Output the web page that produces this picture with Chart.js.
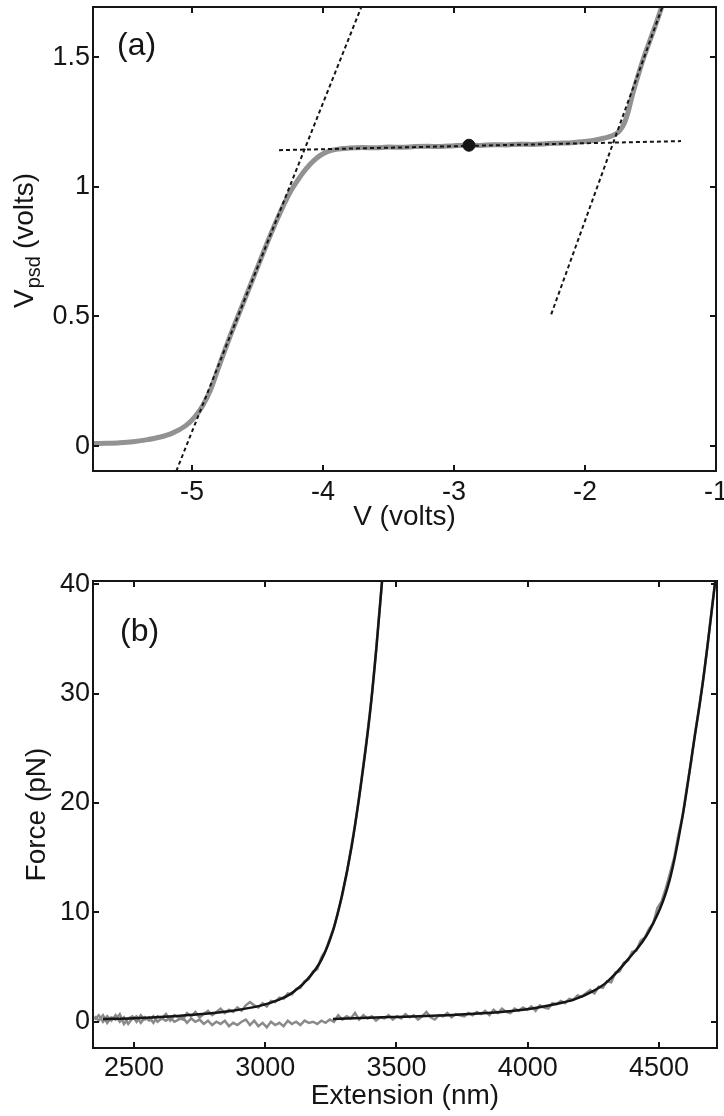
<!DOCTYPE html>
<html><head><meta charset="utf-8">
<script src="https://cdn.jsdelivr.net/npm/chart.js@4.4.0/dist/chart.umd.min.js"></script>
<style>
html,body{margin:0;padding:0;background:#fff;overflow:hidden;}
#wrapA{position:absolute;left:0;top:0;width:724px;height:540px;}
#wrapB{position:absolute;left:0;top:540px;width:724px;height:576px;}
canvas{display:block;}
</style></head><body>
<div id="wrapA"><canvas id="cA" width="724" height="540"></canvas></div>
<div id="wrapB"><canvas id="cB" width="724" height="576"></canvas></div>
<script>
// ---------- Panel (a) data ----------
const xTicksA = [-5, -4, -3, -2, -1];
const yTicksA = [0, 0.5, 1, 1.5];
const psdX = [-5.75,-5.65,-5.55,-5.45,-5.35,-5.25,-5.15,-5.05,-4.98,-4.92,-4.86,-4.80,-4.70,-4.60,-4.50,-4.40,-4.30,-4.25,-4.20,-4.15,-4.10,-4.05,-4.00,-3.95,-3.90,-3.80,-3.70,-3.60,-3.50,-3.40,-3.30,-3.20,-3.10,-3.00,-2.90,-2.80,-2.70,-2.60,-2.50,-2.40,-2.30,-2.20,-2.10,-2.00,-1.95,-1.90,-1.85,-1.80,-1.76,-1.73,-1.70,-1.67,-1.64,-1.60,-1.55,-1.50,-1.45,-1.41];
const psdY = [0.010,0.011,0.013,0.017,0.024,0.034,0.050,0.078,0.112,0.155,0.215,0.300,0.436,0.563,0.690,0.816,0.930,0.980,1.020,1.056,1.086,1.110,1.127,1.138,1.144,1.149,1.151,1.150,1.153,1.152,1.155,1.156,1.155,1.158,1.160,1.159,1.162,1.161,1.164,1.163,1.166,1.168,1.170,1.174,1.177,1.182,1.188,1.195,1.205,1.220,1.245,1.290,1.350,1.420,1.500,1.570,1.640,1.700];
const fitLeftX = [-5.12, -3.71];
const fitLeftY = [-0.096, 1.69];
const fitFlatX = [-4.336, -1.267];
const fitFlatY = [1.141, 1.176];
const fitRightX = [-2.258, -1.412];
const fitRightY = [0.508, 1.69];
const markX = [-2.886];
const markY = [1.160];

// ---------- Panel (b) data ----------
const xTicksB = [2500, 3000, 3500, 4000, 4500];
const yTicksB = [0, 10, 20, 30, 40];
const traceAX = [2350,2366,2382,2398,2414,2430,2446,2462,2478,2494,2510,2526,2542,2558,2574,2590,2606,2622,2638,2654,2670,2686,2702,2718,2734,2750,2766,2782,2798,2814,2830,2846,2862,2878,2894,2910,2926,2942,2958,2974,2990,3006,3022,3038,3054,3070,3086,3102,3118,3134,3150,3166,3182,3198,3214,3230,3246,3262,3278,3294,3310,3326,3342,3358,3374,3390,3406,3422,3438,3446];
const traceAY = [0.5,0.1,0.6,-0.1,0.4,0.2,0.7,-0.2,0.3,0.5,0.0,0.6,0.2,0.4,-0.1,0.5,0.3,0.7,0.1,0.6,0.4,0.2,0.8,0.5,0.9,0.4,0.7,1.0,0.6,0.9,1.2,0.8,1.1,0.9,1.3,1.0,1.5,1.8,1.5,1.3,1.7,1.4,1.9,1.8,2.2,2.1,2.6,2.5,3.0,3.1,3.7,3.9,4.6,4.8,5.9,6.5,7.6,8.6,10.1,11.6,13.5,15.7,18.0,20.6,23.5,26.5,29.8,33.9,38.3,40.5];
const traceBX = [2350,2366,2382,2398,2414,2430,2446,2462,2478,2494,2510,2526,2542,2558,2574,2590,2606,2622,2638,2654,2670,2686,2702,2718,2734,2750,2766,2782,2798,2814,2830,2846,2862,2878,2894,2910,2926,2942,2958,2974,2990,3006,3022,3038,3054,3070,3086,3102,3118,3134,3150,3166,3182,3198,3214,3230,3246,3262,3278,3294,3310,3326,3342,3358,3374,3390,3406,3422,3438,3454,3470,3486,3502,3518,3534,3550,3566,3582,3598,3614,3630,3646,3662,3678,3694,3710,3726,3742,3758,3774,3790,3806,3822,3838,3854,3870,3886,3902,3918,3934,3950,3966,3982,3998,4014,4030,4046,4062,4078,4094,4110,4126,4142,4158,4174,4190,4206,4222,4238,4254,4270,4286,4302,4318,4334,4350,4366,4382,4398,4414,4430,4446,4462,4478,4494,4510,4526,4542,4558,4574,4590,4606,4622,4638,4654,4670,4686,4702,4718];
const traceBY = [0.2,0.6,0.0,0.5,0.1,0.6,0.0,0.4,-0.2,0.3,0.5,-0.1,0.4,0.1,0.5,0.0,0.3,0.1,0.4,0.0,0.2,0.4,-0.1,0.3,0.0,0.2,-0.2,0.1,-0.3,0.0,-0.2,0.1,-0.4,-0.1,-0.3,0.0,0.2,-0.3,0.1,-0.4,-0.1,-0.5,0.0,-0.3,-0.1,-0.4,0.1,-0.2,0.0,-0.3,0.1,-0.1,0.0,-0.2,0.1,-0.1,0.2,0.0,0.6,0.2,0.5,0.3,0.8,0.2,0.6,0.3,0.5,0.1,0.4,0.3,0.6,0.2,0.5,0.3,0.7,0.4,0.6,0.2,0.5,0.9,0.4,0.2,0.6,0.5,0.8,0.4,0.7,0.6,0.5,0.8,0.6,0.9,0.7,1.0,0.6,1.1,0.8,1.2,0.9,0.8,1.2,1.0,1.3,1.1,1.4,1.0,1.5,1.3,1.2,1.7,1.6,1.9,1.7,2.1,2.0,2.4,2.3,2.6,2.9,2.6,3.2,3.1,3.7,3.6,4.5,4.6,5.4,5.6,6.4,6.5,7.4,7.7,8.5,9.0,10.4,11.0,12.2,13.6,15.0,17.1,18.8,21.4,23.7,26.5,28.9,31.6,34.6,37.9,41.0];
const fit1X = [2382,2500,2598,2725,2852,2979,3056,3094,3158,3215,3259,3291,3329,3367,3399,3424,3446];
const fit1Y = [0.25,0.32,0.43,0.64,0.94,1.45,2.05,2.5,3.8,5.7,8.4,11.4,16.0,22.1,28.2,34.3,40.6];
const fit2X = [3258,3475,3729,3983,4122,4173,4249,4300,4382,4465,4541,4592,4630,4668,4716];
const fit2Y = [0.25,0.43,0.64,1.1,1.7,2.0,2.8,3.6,5.7,8.4,13.0,19.1,25.1,31.2,40.6];

// ---------- helpers ----------
const FAM = '"Liberation Sans", Arial, Helvetica, sans-serif';
const INK = '#151515';
const pts = (xs, ys) => xs.map((x, i) => ({x: x, y: ys[i]}));

const framePlugin = {
  id: 'frame',
  afterDatasetsDraw(chart, args, opts) {
    const {ctx, chartArea: a, scales} = chart;
    ctx.save();
    ctx.strokeStyle = INK;
    ctx.lineWidth = 2;
    ctx.strokeRect(a.left, a.top, a.right - a.left, a.bottom - a.top);
    const L = 6;
    ctx.beginPath();
    scales.x.ticks.forEach(t => {
      const p = Math.round(scales.x.getPixelForValue(t.value));
      ctx.moveTo(p, a.bottom); ctx.lineTo(p, a.bottom - L);
      ctx.moveTo(p, a.top); ctx.lineTo(p, a.top + L);
    });
    scales.y.ticks.forEach(t => {
      const p = Math.round(scales.y.getPixelForValue(t.value));
      ctx.moveTo(a.left, p); ctx.lineTo(a.left + L, p);
      ctx.moveTo(a.right, p); ctx.lineTo(a.right - L, p);
    });
    ctx.stroke();
    ctx.fillStyle = INK;
    ctx.textBaseline = 'alphabetic';
    ctx.textAlign = 'left';
    ctx.font = '32px ' + FAM;
    ctx.fillText(opts.label, opts.lx, opts.ly);
    if (opts.subTitle) {
      ctx.translate(33, 308);
      ctx.rotate(-Math.PI / 2);
      ctx.font = '28px ' + FAM;
      ctx.fillText('V', 0, 0);
      let u = ctx.measureText('V').width + 1;
      ctx.font = '20px ' + FAM;
      ctx.fillText('psd', u, 7);
      u += ctx.measureText('psd').width + 7;
      ctx.font = '28px ' + FAM;
      ctx.fillText('(volts)', u, 0);
    }
    ctx.restore();
  }
};

function axis(ticksArr, min, max, isX, size, title, titlePad, tickPad) {
  return {
    type: 'linear', min: min, max: max,
    afterBuildTicks: s => { s.ticks = ticksArr.map(v => ({value: v})); },
    afterFit: s => {
      if (isX) { s.height = size; s.paddingLeft = 0; s.paddingRight = 0; }
      else { s.width = size; s.paddingTop = 0; s.paddingBottom = 0; }
    },
    grid: {display: false, drawTicks: false},
    border: {display: false},
    ticks: {padding: tickPad, color: INK, font: {family: FAM, size: 27}, autoSkip: false, maxRotation: 0, callback: v => String(v)},
    title: title ? {display: true, text: title, color: INK, font: {family: FAM, size: 28}, padding: titlePad} : {display: false}
  };
}

const common = {
  responsive: false, animation: false, events: [],
  plugins: {legend: {display: false}, tooltip: {enabled: false}},
};

new Chart(document.getElementById('cA'), {
  type: 'scatter',
  data: {datasets: [
    {data: pts(markX, markY), pointRadius: 6, pointBackgroundColor: INK, pointBorderColor: INK, showLine: false, order: 0},
    {data: pts(fitLeftX, fitLeftY), showLine: true, borderColor: INK, borderWidth: 2, borderDash: [4, 3], pointRadius: 0, order: 1},
    {data: pts(fitFlatX, fitFlatY), showLine: true, borderColor: INK, borderWidth: 2, borderDash: [4, 3], pointRadius: 0, order: 1},
    {data: pts(fitRightX, fitRightY), showLine: true, borderColor: INK, borderWidth: 2, borderDash: [4, 3], pointRadius: 0, order: 1},
    {data: pts(psdX, psdY), showLine: true, borderColor: '#929292', borderWidth: 5, pointRadius: 0, cubicInterpolationMode: 'monotone', order: 2}
  ]},
  options: Object.assign({}, common, {
    layout: {padding: {top: 7, right: 8, left: 0, bottom: 0}},
    scales: {
      x: axis(xTicksA, -5.756, -1, true, 69, 'V (volts)', {top: 0, bottom: 6}, 5),
      y: axis(yTicksA, -0.096, 1.693, false, 93, null, null, 3)
    },
    plugins: Object.assign({}, common.plugins, {frame: {label: '(a)', lx: 117, ly: 55, subTitle: true}})
  }),
  plugins: [framePlugin]
});

new Chart(document.getElementById('cB'), {
  type: 'scatter',
  data: {datasets: [
    {data: pts(fit1X, fit1Y), showLine: true, borderColor: INK, borderWidth: 2.5, pointRadius: 0, cubicInterpolationMode: 'monotone', order: 0},
    {data: pts(fit2X, fit2Y), showLine: true, borderColor: INK, borderWidth: 2.5, pointRadius: 0, cubicInterpolationMode: 'monotone', order: 0},
    {data: pts(traceAX, traceAY), showLine: true, borderColor: '#8a8a8a', borderWidth: 2.5, pointRadius: 0, order: 1},
    {data: pts(traceBX, traceBY), showLine: true, borderColor: '#8a8a8a', borderWidth: 2.5, pointRadius: 0, order: 1}
  ]},
  options: Object.assign({}, common, {
    layout: {padding: {top: 41, right: 7, left: 0, bottom: 0}},
    scales: {
      x: axis(xTicksB, 2344, 4721, true, 68, 'Extension (nm)', {top: 0, bottom: 3}, 4),
      y: axis(yTicksB, -2.4, 40.3, false, 93, 'Force (pN)', {top: 20, bottom: 0}, 3)
    },
    plugins: Object.assign({}, common.plugins, {frame: {label: '(b)', lx: 120, ly: 101, subTitle: false}})
  }),
  plugins: [framePlugin]
});
</script>
</body></html>
